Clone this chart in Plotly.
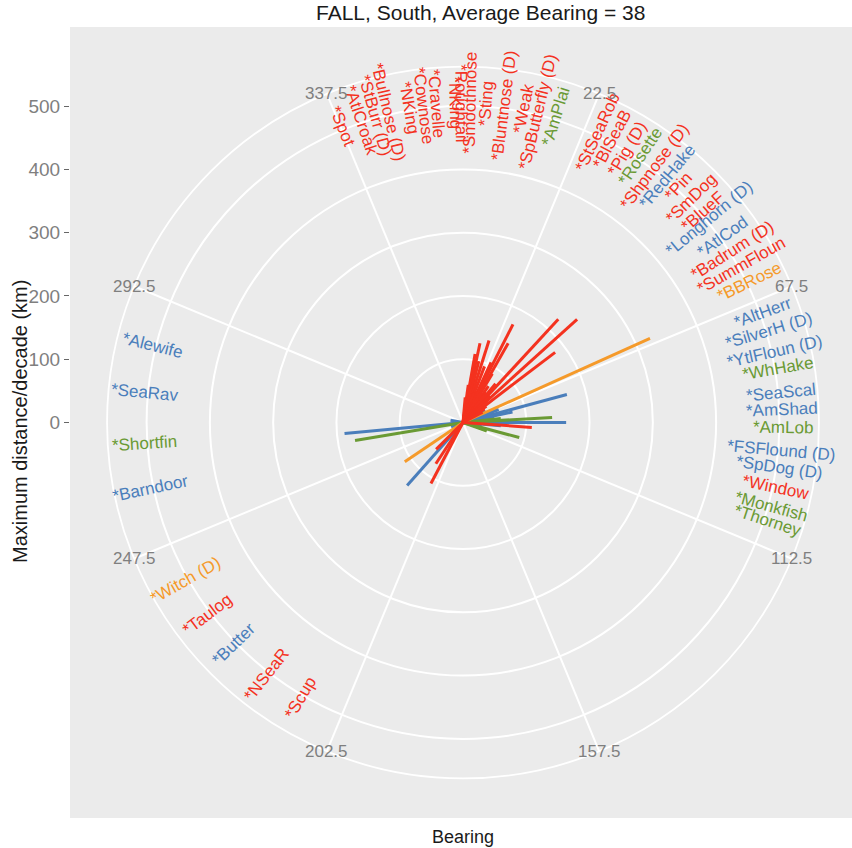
import numpy as np
import plotly.graph_objects as go

title_text = "FALL, South, Average Bearing = 38"

species = ["Spot", "AtlCroak", "StBurr (D)", "Bullnose (D)", "NKing", "Cownose", "Cravelle", "NKing",
           "Roughtail", "Smoothnose", "Sting", "Bluntnose (D)", "Weak", "SpButterfly (D)", "AmPlai",
           "StSeaRob", "BlSeaB", "Pig (D)", "Rosette", "Shpnose (D)", "RedHake", "Pin", "SmDog", "BlueF",
           "Longhorn (D)", "AtlCod", "Badrum (D)", "SummFloun", "BBRose",
           "AltHerr", "SilverH (D)", "YtlFloun (D)", "WhHake", "SeaScal", "AmShad", "AmLob",
           "FSFlound (D)", "SpDog (D)", "Window", "Monkfish", "Thorney",
           "Scup", "NSeaR", "Butter", "Taulog", "Witch (D)",
           "Barndoor", "Shortfin", "SeaRav", "Alewife"]
group = ["red"] * 14 + ["green"] + \
        ["red", "red", "red", "green", "red", "blue", "red", "red", "red",
         "blue", "blue", "red", "red", "orange",
         "blue", "blue", "blue", "green", "blue", "blue", "green",
         "blue", "blue", "red", "green", "green",
         "red", "red", "blue", "red", "orange",
         "blue", "green", "blue", "blue"]
line_bearing = [8, 10, 5, 12.1, 14.5, 17.6, 21, 20, 25, 27.0, 29.7, 31, 35, 38, 35,
                42.7, 47.9, 52.7, 45, 40, 60, 45, 50, 55,
                70, 72, 58, 62, 65.8,
                74.9, 78, 82, 84, 88, 90, 86.8,
                95, 100, 94.1, 105, 110,
                207.7, 213.4, 221.6, 225, 236,
                250, 260.5, 264.7, 280]
line_dist = [60, 110, 40, 128, 100, 136, 95, 50, 105, 174, 144, 90, 70, 60, 30,
             222, 243, 183, 25, 80, 40, 60, 50, 45,
             60, 50, 40, 35, 324,
             170, 80, 50, 60, 40, 163, 141,
             60, 30, 109, 92, 40,
             109, 78, 133, 60, 111,
             20, 173, 188, 20]
label_bearing = [337.8, 341.3, 344.1, 346.4, 350.3, 352.9, 355.3, 358.7, 359.6, 1.2, 4.2, 7.4, 11.0, 13.6, 16.9,
                 24.9, 27.8, 30.9, 33.7, 36.9, 39.8, 42.4, 45.6, 48.6,
                 50.4, 54.5, 57.4, 60.5, 63.9,
                 69.9, 73.3, 77.2, 80.2, 84.6, 87.7, 90.9,
                 95.1, 98.1, 101.7, 105.3, 107.9,
                 210.5, 217.9, 225.9, 233.1, 240.3,
                 258.1, 266.3, 275.4, 284.0]
label_radius = 505

theta_ticks = [22.5, 67.5, 112.5, 157.5, 202.5, 247.5, 292.5, 337.5]
r_ticks = [0, 100, 200, 300, 400, 500]
r_max = 500

palette = {"red": "#F4321F", "blue": "#4A7EBB", "green": "#6A9A34", "orange": "#F59A2A"}
FONT = "Liberation Sans, Arial"

# ---- geometry (pixels) ----
W, H = 852, 848
ML, MR, MT, MB = 70, 0, 27, 30
cx, cy = 463, 422.5
plot_w, plot_h = W - ML - MR, H - MT - MB
ppk = (0.4 * plot_h) / r_max            # pixels per km
r_outer = r_max * 0.45 / 0.4
R_px = r_outer * ppk
x_range = [(ML - cx) / ppk, (W - MR - cx) / ppk]
y_range = [(cy - (H - MB)) / ppk, (cy - MT) / ppk]
dom_x = [(cx - R_px - ML) / plot_w, (cx + R_px - ML) / plot_w]
dom_y = [((H - MB) - (cy + R_px)) / plot_h, ((H - MB) - (cy - R_px)) / plot_h]

def px_to_paper(px, py):
    return (px - ML) / plot_w, ((H - MB) - py) / plot_h

fig = go.Figure()

lb = np.radians(label_bearing)
lx = label_radius * np.sin(lb)
ly = label_radius * np.cos(lb)
fig.add_trace(go.Scatter(x=lx, y=ly, mode="markers", marker=dict(opacity=0, size=1),
                         hoverinfo="skip", showlegend=False))

order = ["blue", "green", "orange", "red"]
for g in order:
    for i, sp in enumerate(species):
        if group[i] != g:
            continue
        fig.add_trace(go.Scatterpolar(r=[0, line_dist[i]], theta=[line_bearing[i], line_bearing[i]],
                                      mode="lines", line=dict(color=palette[g], width=3),
                                      name=sp, showlegend=False, subplot="polar"))

annotations = []
for i, sp in enumerate(species):
    b = label_bearing[i]
    a = 90 - b if b < 180 else 270 - b   # ggplot-style angle (ccw)
    annotations.append(dict(x=lx[i], y=ly[i], xref="x", yref="y", text="*" + sp, showarrow=False,
                            textangle=-a, xanchor="center", yanchor="middle",
                            font=dict(size=17, color=palette[group[i]], family=FONT)))

for t in theta_ticks:
    tr = np.radians(t)
    annotations.append(dict(x=r_outer * np.sin(tr), y=r_outer * np.cos(tr), xref="x", yref="y",
                            text=f"{t:g}", showarrow=False, xanchor="center", yanchor="middle",
                            font=dict(size=17, color="#7F7F7F", family=FONT)))

tx, ty = px_to_paper(480, 12)
annotations.append(dict(x=tx, y=ty, xref="paper", yref="paper", text=title_text, showarrow=False,
                        xanchor="center", yanchor="middle",
                        font=dict(size=21, color="#1A1A1A", family=FONT)))
bx, by = px_to_paper(463, 837)
annotations.append(dict(x=bx, y=by, xref="paper", yref="paper", text="Bearing", showarrow=False,
                        xanchor="center", yanchor="middle",
                        font=dict(size=18, color="#1A1A1A", family=FONT)))
ax_, ay_ = px_to_paper(20, 422)
annotations.append(dict(x=ax_, y=ay_, xref="paper", yref="paper", text="Maximum distance/decade (km)",
                        showarrow=False, textangle=-90, xanchor="center", yanchor="middle",
                        font=dict(size=20, color="#1A1A1A", family=FONT)))

fig.update_layout(
    width=W, height=H,
    margin=dict(l=ML, r=MR, t=MT, b=MB),
    paper_bgcolor="white", plot_bgcolor="#EBEBEB",
    showlegend=False,
    xaxis=dict(range=x_range, visible=False, showgrid=False, zeroline=False, fixedrange=True),
    yaxis=dict(range=y_range, tickvals=r_ticks, ticks="outside", ticklen=5, tickwidth=1.2,
               tickcolor="#666666", showgrid=False, zeroline=False, showline=False,
               tickfont=dict(size=19, color="#7F7F7F", family=FONT),
               fixedrange=True),
    polar=dict(
        domain=dict(x=dom_x, y=dom_y),
        bgcolor="rgba(0,0,0,0)",
        radialaxis=dict(range=[0, r_outer], tickvals=[100, 200, 300, 400, 500], showticklabels=False,
                        ticks="", showline=False, gridcolor="white", gridwidth=1.8),
        angularaxis=dict(rotation=90, direction="clockwise", tickvals=theta_ticks, showticklabels=False,
                         ticks="", gridcolor="white", gridwidth=1.8, showline=True,
                         linecolor="white", linewidth=1.8),
    ),
    annotations=annotations,
    font=dict(family=FONT),
)

fig.write_html("out.html", config={"displayModeBar": False},
               post_script="document.body.style.margin='0px';")
